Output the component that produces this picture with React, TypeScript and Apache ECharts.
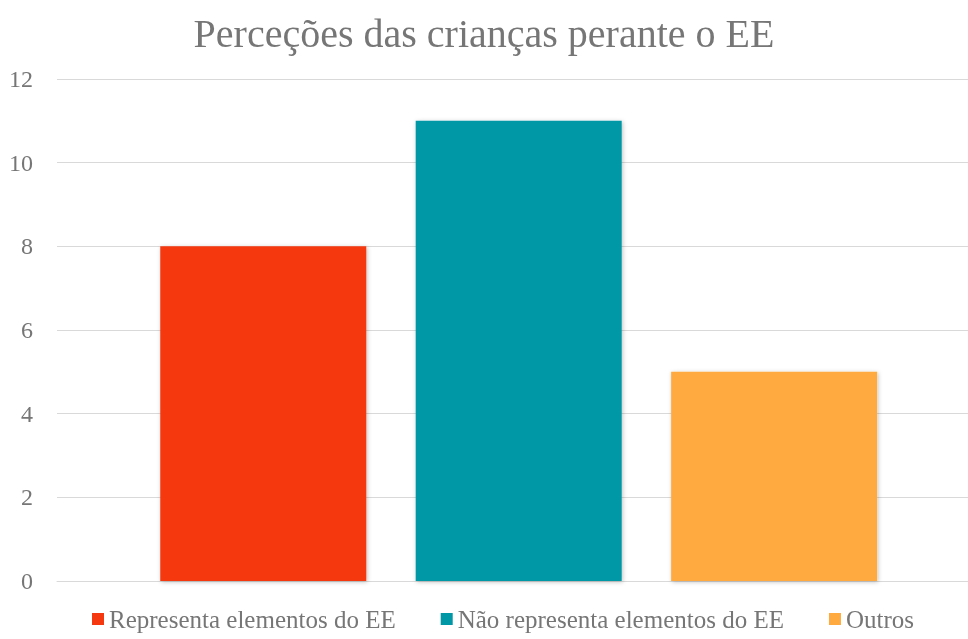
import React, { useEffect, useRef } from "react";
import * as echarts from "echarts";

const categories = ["Perceções"];
const seriesNames = ["Representa elementos do EE", "Não representa elementos do EE", "Outros"];
const seriesValues = [[8], [11], [5]];
const seriesColors = ["#F5380F", "#0097A7", "#FFAA40"];
const yTicks = { min: 0, max: 12, interval: 2 };

export default function App() {
  const ref = useRef<HTMLDivElement>(null);
  useEffect(() => {
    const chart = echarts.init(ref.current!, null, { renderer: "svg" });
    const font = "Liberation Serif, Times New Roman, serif";
    const barSeries = seriesNames.map((name, i) => ({
      name,
      type: "bar",
      data: seriesValues[i],
      barWidth: 206,
      barGap: "24%",
      itemStyle: {
        color: seriesColors[i],
        shadowBlur: 4,
        shadowColor: "rgba(0,0,0,0.25)",
        shadowOffsetX: 1,
        shadowOffsetY: 1,
      },
    }));
    chart.setOption({
      animation: false,
      textStyle: { fontFamily: font },
      title: {
        text: "Perceções das crianças perante o EE",
        left: "center",
        top: 8,
        textStyle: { fontFamily: font, fontSize: 40, fontWeight: "normal", color: "#767676" },
      },
      legend: {
        top: 606,
        left: 87,
        padding: [0, 5],
        itemWidth: 12,
        itemHeight: 12,
        itemGap: 45,
        icon: "rect",
        textStyle: { fontFamily: font, fontSize: 25, lineHeight: 26, color: "#767676" },
        data: seriesNames,
      },
      grid: { left: 57, right: 0, top: 79, bottom: 58, containLabel: false },
      xAxis: {
        type: "category",
        data: categories,
        axisLine: { show: true, lineStyle: { color: "#D9D9D9", width: 1 } },
        axisTick: { show: false },
        axisLabel: { show: false },
      },
      yAxis: {
        type: "value",
        min: yTicks.min,
        max: yTicks.max,
        interval: yTicks.interval,
        axisLine: { show: false },
        axisTick: { show: false },
        axisLabel: { fontFamily: font, fontSize: 24, color: "#767676", margin: 24 },
        splitLine: { lineStyle: { color: "#D9D9D9", width: 1 } },
      },
      series: [
        // empty spacer column so the bars sit slightly right of centre, as in the reference
        { name: "spacer", type: "bar", data: [null], barWidth: 10, barGap: "24%", silent: true },
        ...barSeries,
      ],
    });
    return () => chart.dispose();
  }, []);
  return <div ref={ref} style={{ position: "fixed", left: 0, top: 0, width: 968, height: 639 }} />;
}
